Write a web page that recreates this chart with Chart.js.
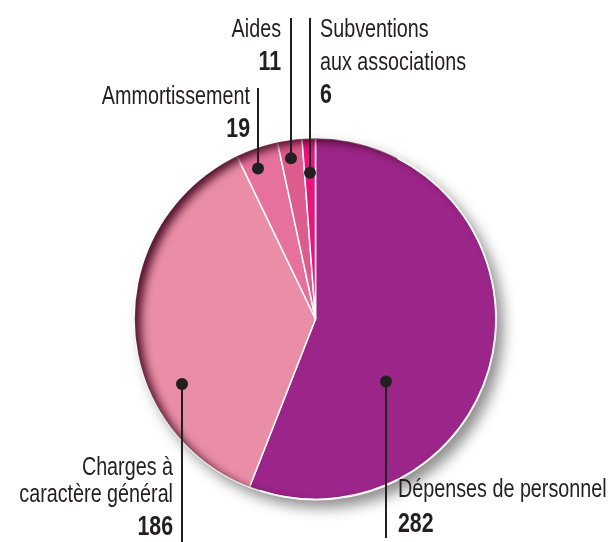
<!DOCTYPE html>
<html>
<head>
<meta charset="utf-8">
<script src="https://cdn.jsdelivr.net/npm/chart.js@4"></script>
<style>
  html, body { margin: 0; padding: 0; background: #fff; }
  #pie { display: block; }
</style>
</head>
<body>
<canvas id="pie" width="611" height="542"></canvas>
<script>
// Data
const categories = ["Dépenses de personnel", "Charges à caractère général", "Ammortissement", "Aides", "Subventions aux associations"];
const values = [282, 186, 19, 11, 6];
const colors = ["#9c2589", "#ea8ea7", "#e7719d", "#dd5c8e", "#e5167d"];

// How each label is written (text lines), kept apart from the data
const labelLines = [
    ["Dépenses de personnel"],
    ["Charges à", "caractère général"],
    ["Ammortissement"],
    ["Aides"],
    ["Subventions", "aux associations"]
];

// Leader layout: dot in polar terms (degrees clockwise from top, fraction of radius),
// side of the text, end of the vertical line, baselines of the text lines and the number
const leaders = [
    { angle: 131.6, r: 0.52, side: "right", gap: 12, lineEnd: 538, baselines: [497], numBase: 532 },
    { angle: 244.0, r: 0.82, side: "left", gap: 9, lineEnd: 542, baselines: [475, 502], numBase: 535 },
    { angle: 339.2, r: 0.89, side: "left", gap: 8, lineEnd: 88, baselines: [104], numBase: 137 },
    { angle: 351.2, r: 0.90, side: "left", gap: 10, lineEnd: 18, baselines: [37], numBase: 70 },
    { angle: 357.7, r: 0.81, side: "right", gap: 10, lineEnd: 18, baselines: [37, 70], numBase: 103 }
];

const FONT = '"Liberation Sans", Arial, sans-serif';
const NARROW = 0.79;   // horizontal squeeze to get a condensed face
const INK = "#231f20";

// Drop shadow under the disc, and a dark inner rim on the upper-left edge
const pieEffects = {
    id: "pieEffects",
    beforeDatasetsDraw(chart) {
        const arc = chart.getDatasetMeta(0).data[0];
        const ctx = chart.ctx;
        ctx.save();
        ctx.shadowColor = "rgba(0,0,0,0.45)";
        ctx.shadowBlur = 14;
        ctx.shadowOffsetX = 7;
        ctx.shadowOffsetY = 8;
        ctx.beginPath();
        ctx.arc(arc.x, arc.y, arc.outerRadius, 0, Math.PI * 2);
        ctx.fillStyle = "#ffffff";
        ctx.fill();
        ctx.restore();
    },
    afterDatasetsDraw(chart) {
        const arc = chart.getDatasetMeta(0).data[0];
        const ctx = chart.ctx;
        const R = arc.outerRadius;
        ctx.save();
        ctx.beginPath();
        ctx.arc(arc.x, arc.y, R, 0, Math.PI * 2);
        ctx.clip();
        ctx.beginPath();
        ctx.rect(arc.x - R - 60, arc.y - R - 60, 2 * R + 120, 2 * R + 120);
        ctx.arc(arc.x, arc.y, R + 1, 0, Math.PI * 2, true);
        ctx.shadowColor = "rgba(60,0,25,0.9)";
        ctx.shadowBlur = 10;
        ctx.shadowOffsetX = 7;
        ctx.shadowOffsetY = 4;
        ctx.fillStyle = "#000";
        ctx.fill();
        ctx.restore();

        // thin light rim on the right side
        ctx.save();
        ctx.beginPath();
        ctx.arc(arc.x, arc.y, R - 0.5, -Math.PI * 0.35, Math.PI * 0.6);
        ctx.strokeStyle = "rgba(255,255,255,0.9)";
        ctx.lineWidth = 1.5;
        ctx.stroke();
        ctx.restore();
    }
};

function narrowText(ctx, text, x, y, align) {
    ctx.save();
    ctx.translate(x, y);
    ctx.scale(NARROW, 1);
    ctx.textAlign = align;
    ctx.textBaseline = "alphabetic";
    ctx.fillText(text, 0, 0);
    ctx.restore();
}

// Leader lines with dots, category names and bold values
const leaderLabels = {
    id: "leaderLabels",
    afterDraw(chart) {
        const meta = chart.getDatasetMeta(0);
        const ctx = chart.ctx;
        const cx = meta.data[0].x, cy = meta.data[0].y, R = meta.data[0].outerRadius;
        ctx.save();
        leaders.forEach((l, i) => {
            const a = l.angle * Math.PI / 180;
            const dx = Math.round(cx + Math.sin(a) * R * l.r);
            const dy = cy - Math.cos(a) * R * l.r;
            ctx.strokeStyle = INK;
            ctx.lineWidth = 2;
            ctx.beginPath();
            ctx.moveTo(dx, dy);
            ctx.lineTo(dx, l.lineEnd);
            ctx.stroke();
            ctx.fillStyle = INK;
            ctx.beginPath();
            ctx.arc(dx, dy, 6, 0, Math.PI * 2);
            ctx.fill();

            const tx = l.side === "left" ? dx - l.gap : dx + l.gap;
            const align = l.side === "left" ? "right" : "left";
            ctx.font = "25px " + FONT;
            labelLines[i].forEach((t, k) => narrowText(ctx, t, tx, l.baselines[k], align));
            ctx.font = "bold 27px " + FONT;
            narrowText(ctx, String(values[i]), tx, l.numBase, align);
        });
        ctx.restore();
    }
};

document.addEventListener("DOMContentLoaded", () => {
    const ctx = document.getElementById("pie").getContext("2d");
    new Chart(ctx, {
        type: "pie",
        data: {
            labels: categories,
            datasets: [{
                data: values,
                backgroundColor: colors,
                borderColor: "#ffffff",
                borderWidth: 1.5
            }]
        },
        options: {
            responsive: false,
            animation: false,
            layout: { padding: { left: 134, right: 114, top: 137, bottom: 41 } },
            plugins: {
                legend: { display: false },
                tooltip: { enabled: false }
            }
        },
        plugins: [pieEffects, leaderLabels]
    });
});
</script>
</body>
</html>
